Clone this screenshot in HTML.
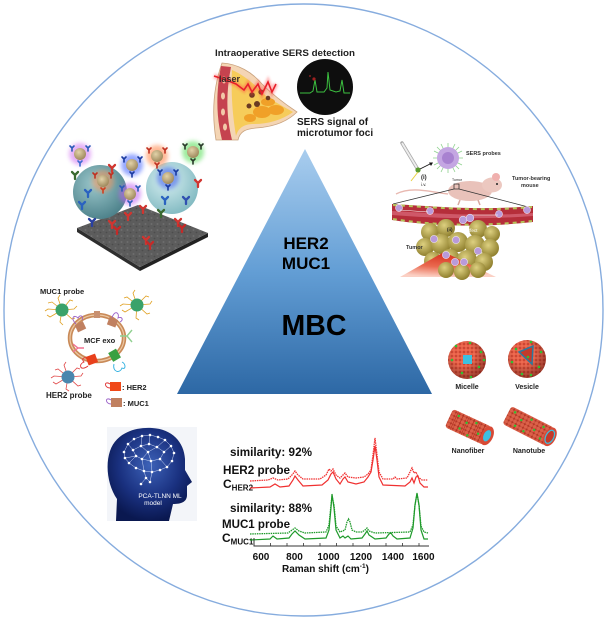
<!DOCTYPE html>
<html>
<head>
<meta charset="utf-8">
<style>
html,body{margin:0;padding:0;background:#fff;}
body{width:605px;height:620px;overflow:hidden;}
svg{display:block;font-family:"Liberation Sans",Arial,sans-serif;}
</style>
</head>
<body>
<svg width="605" height="620" viewBox="0 0 605 620" xmlns="http://www.w3.org/2000/svg">
<defs>
  <linearGradient id="tri" x1="0" y1="0" x2="0" y2="1">
    <stop offset="0" stop-color="#a9cdee"/>
    <stop offset="0.5" stop-color="#639ed5"/>
    <stop offset="1" stop-color="#2d68a5"/>
  </linearGradient>
  <radialGradient id="sphL" cx="0.4" cy="0.35" r="0.7">
    <stop offset="0" stop-color="#9cc8cc"/>
    <stop offset="1" stop-color="#4a7f88"/>
  </radialGradient>
  <radialGradient id="sphR" cx="0.4" cy="0.35" r="0.7">
    <stop offset="0" stop-color="#d8f0f2"/>
    <stop offset="1" stop-color="#7fb8c0"/>
  </radialGradient>
  <radialGradient id="head" cx="0.5" cy="0.4" r="0.6">
    <stop offset="0" stop-color="#3d62b8"/>
    <stop offset="0.6" stop-color="#1a3180"/>
    <stop offset="1" stop-color="#0a1850"/>
  </radialGradient>
  <radialGradient id="tum" cx="0.4" cy="0.35" r="0.7">
    <stop offset="0" stop-color="#ddd080"/>
    <stop offset="1" stop-color="#8a7a28"/>
  </radialGradient>
  <radialGradient id="glow" cx="0.5" cy="0" r="1">
    <stop offset="0" stop-color="#d42a18"/>
    <stop offset="0.6" stop-color="#ea6a50"/>
    <stop offset="1" stop-color="#fbd0c4"/>
  </radialGradient>
  <radialGradient id="shade" cx="0.4" cy="0.35" r="0.65">
    <stop offset="0.45" stop-color="#000" stop-opacity="0"/>
    <stop offset="1" stop-color="#300" stop-opacity="0.4"/>
  </radialGradient>
  <radialGradient id="np" cx="0.4" cy="0.35" r="0.7">
    <stop offset="0" stop-color="#e2d2a8"/>
    <stop offset="1" stop-color="#9a8458"/>
  </radialGradient>
  <pattern id="beads" width="4" height="4" patternUnits="userSpaceOnUse">
    <rect width="4" height="4" fill="#c23a28"/>
    <circle cx="2" cy="2" r="1.9" fill="#ee6a50"/>
  </pattern>
  <pattern id="slabtex" width="6" height="6" patternUnits="userSpaceOnUse">
    <rect width="6" height="6" fill="#5c5c5c"/>
    <circle cx="1.5" cy="2" r="1" fill="#6e6e6e"/>
    <circle cx="4.5" cy="4.5" r="0.9" fill="#4c4c4c"/>
  </pattern>
  <filter id="blur2" x="-50%" y="-50%" width="200%" height="200%"><feGaussianBlur stdDeviation="2.2"/></filter>
  <filter id="blur1" x="-50%" y="-50%" width="200%" height="200%"><feGaussianBlur stdDeviation="1"/></filter>
  <g id="y"><path d="M0,4 L0,0 M0,0 L-3,-3 M0,0 L3,-3" fill="none" stroke-width="2.3" stroke-linecap="round"/></g>
  <g id="ys"><path d="M0,3 L0,0 M0,0 L-2,-2 M0,0 L2,-2" fill="none" stroke-width="1.6" stroke-linecap="round"/></g>
</defs>

<!-- outer circle -->
<ellipse cx="303.5" cy="310" rx="299.5" ry="306" fill="none" stroke="#86acde" stroke-width="1.4"/>

<!-- triangle -->
<polygon points="305,149 177,394 432,394" fill="url(#tri)"/>
<text x="306" y="249" font-size="17" font-weight="bold" text-anchor="middle" fill="#000">HER2</text>
<text x="306" y="269" font-size="17" font-weight="bold" text-anchor="middle" fill="#000">MUC1</text>
<text x="314" y="335" font-size="28.5" font-weight="bold" text-anchor="middle" fill="#000">MBC</text>

<!-- ============ TOP IMAGE ============ -->
<text x="215" y="56" font-size="9" font-weight="bold" fill="#222" textLength="140" lengthAdjust="spacingAndGlyphs">Intraoperative SERS detection</text>
<!-- breast -->
<path d="M222,63 C238,64 252,72 262,84 C274,96 288,106 297,112 C287,122 272,127 256,128 C246,129 240,131 238,140 L216,140 C212,115 213,88 222,63 Z" fill="#f4d5b4" stroke="#c9a27e" stroke-width="0.8"/>
<path d="M221,66 C216,92 216,116 222,140 L232,140 C226,116 226,92 231,67 Z" fill="#c5434f"/>
<ellipse cx="224" cy="80" rx="2" ry="3.5" fill="#f2c8a8"/>
<ellipse cx="223" cy="96" rx="2" ry="3.5" fill="#f2c8a8"/>
<ellipse cx="223" cy="112" rx="2" ry="3.5" fill="#f2c8a8"/>
<ellipse cx="225" cy="127" rx="2" ry="3.5" fill="#f2c8a8"/>
<path d="M232,70 C246,76 256,86 266,96 C278,104 288,109 293,112 C282,120 268,124 254,124 C244,124 238,128 236,136 C232,112 231,90 232,70 Z" fill="#f6cc5a"/>
<ellipse cx="262" cy="112" rx="9" ry="6" fill="#f0a028"/>
<ellipse cx="276" cy="110" rx="8" ry="5" fill="#f0a028"/>
<ellipse cx="268" cy="102" rx="7" ry="4" fill="#f0a028"/>
<ellipse cx="250" cy="118" rx="6" ry="4" fill="#f0a028"/>
<circle cx="252" cy="95" r="2.8" fill="#6a3a22"/>
<circle cx="261" cy="92" r="2.6" fill="#6a3a22"/>
<circle cx="257" cy="104" r="3" fill="#6a3a22"/>
<circle cx="268" cy="98" r="2.3" fill="#6a3a22"/>
<circle cx="249" cy="106" r="2.5" fill="#6a3a22"/>
<path d="M214,76 L226,80 L236,84 L244,90 L248,84 L252,92 L258,84 L262,94 L268,82 L272,92 L276,84" fill="none" stroke="#ff4040" stroke-width="5" stroke-opacity="0.35" filter="url(#blur1)"/>
<path d="M214,76 L226,80 L236,84 L244,90 L248,84 L252,92 L258,84 L262,94 L268,82 L272,92 L276,84" fill="none" stroke="#e8202a" stroke-width="1.6"/>
<text x="219" y="82" font-size="9" font-weight="bold" fill="#3a2a2a">laser</text>
<!-- black circle -->
<circle cx="325" cy="87" r="28" fill="#0e0e0e"/>
<path d="M300,93 L310,93 L313,91 L315,80 L317,92 L324,92 L327,88 L328,72 L330,90 L336,92 L340,91 L342,80 L344,93 L350,93" fill="none" stroke="#3cc040" stroke-width="1"/>
<circle cx="314" cy="79" r="1.6" fill="#a02020"/>
<circle cx="310" cy="76" r="1" fill="#802020"/>
<text x="297" y="125" font-size="10" font-weight="bold" fill="#1a1a1a">SERS signal of</text>
<text x="297" y="136" font-size="10" font-weight="bold" fill="#1a1a1a">microtumor foci</text>

<!-- ============ TOP-LEFT IMAGE ============ -->
<polygon points="77,228 77,232 140,271 140,267" fill="#2e2e2e"/>
<polygon points="140,267 140,271 208,237 208,233" fill="#222"/>
<polygon points="77,228 138,205 208,233 140,267" fill="url(#slabtex)"/>
<circle cx="100" cy="192" r="27" fill="url(#sphL)"/>
<circle cx="172" cy="188" r="26" fill="url(#sphR)"/>
<!-- antibodies -->
<use href="#y" x="112" y="224" stroke="#d03530"/>
<use href="#y" x="117" y="230" stroke="#c42a28"/>
<use href="#y" x="143" y="209" stroke="#d03530"/>
<use href="#y" x="146" y="240" stroke="#d03530"/>
<use href="#y" x="150" y="245" stroke="#c42a28"/>
<use href="#y" x="178" y="222" stroke="#d03530"/>
<use href="#y" x="182" y="228" stroke="#c42a28"/>
<use href="#y" x="128" y="216" stroke="#d03530"/>
<use href="#y" x="198" y="183" stroke="#d03530"/>
<use href="#y" x="88" y="193" stroke="#2a62c0"/>
<use href="#y" x="82" y="205" stroke="#2a62c0"/>
<use href="#y" x="186" y="200" stroke="#3050b0"/>
<use href="#y" x="165" y="200" stroke="#2a62c0"/>
<use href="#y" x="92" y="222" stroke="#2a40a0"/>
<use href="#y" x="112" y="168" stroke="#d03530"/>
<use href="#y" x="75" y="175" stroke="#3a6a30"/>
<use href="#y" x="161" y="213" stroke="#3a6a30"/>
<!-- nanoparticles with halos -->
<g>
  <circle cx="80" cy="154" r="11" fill="#d070f0" opacity="0.55" filter="url(#blur2)"/>
  <circle cx="132" cy="165" r="11" fill="#4060ff" opacity="0.55" filter="url(#blur2)"/>
  <circle cx="157" cy="156" r="11" fill="#ff8040" opacity="0.55" filter="url(#blur2)"/>
  <circle cx="193" cy="152" r="11" fill="#60e060" opacity="0.6" filter="url(#blur2)"/>
  <circle cx="103" cy="181" r="11" fill="#ff9050" opacity="0.5" filter="url(#blur2)"/>
  <circle cx="130" cy="194" r="11" fill="#c060f0" opacity="0.55" filter="url(#blur2)"/>
  <circle cx="168" cy="178" r="11" fill="#3050f0" opacity="0.5" filter="url(#blur2)"/>
</g>
<g stroke="#2a5ab8">
  <circle cx="80" cy="154" r="6" fill="url(#np)" stroke="none"/>
  <use href="#ys" x="72" y="148"/><use href="#ys" x="88" y="148"/><use href="#ys" x="80" y="163" stroke="#3a6ad0"/>
  <circle cx="132" cy="165" r="6" fill="url(#np)" stroke="none"/>
  <use href="#ys" x="124" y="159" stroke="#1a3aa0"/><use href="#ys" x="140" y="159" stroke="#1a3aa0"/><use href="#ys" x="132" y="174" stroke="#1a3aa0"/>
  <circle cx="157" cy="156" r="6" fill="url(#np)" stroke="none"/>
  <use href="#ys" x="149" y="150" stroke="#c03020"/><use href="#ys" x="165" y="150" stroke="#c03020"/><use href="#ys" x="157" y="165" stroke="#c03020"/>
  <circle cx="193" cy="152" r="6" fill="url(#np)" stroke="none"/>
  <use href="#ys" x="185" y="146" stroke="#2a3a2a"/><use href="#ys" x="201" y="146" stroke="#2a3a2a"/><use href="#ys" x="193" y="161" stroke="#2a3a2a"/>
  <circle cx="103" cy="181" r="6" fill="url(#np)" stroke="none"/>
  <use href="#ys" x="95" y="175" stroke="#c03020"/><use href="#ys" x="111" y="175" stroke="#c03020"/><use href="#ys" x="103" y="190" stroke="#d04020"/>
  <circle cx="130" cy="194" r="6" fill="url(#np)" stroke="none"/>
  <use href="#ys" x="122" y="188"/><use href="#ys" x="138" y="188"/><use href="#ys" x="130" y="203"/>
  <circle cx="168" cy="178" r="6" fill="url(#np)" stroke="none"/>
  <use href="#ys" x="160" y="172" stroke="#1a3aa0"/><use href="#ys" x="176" y="172" stroke="#1a3aa0"/><use href="#ys" x="168" y="187" stroke="#1a3aa0"/>
</g>

<!-- ============ LEFT-MID IMAGE (MCF exo) ============ -->
<text x="40" y="294" font-size="7.5" font-weight="bold" fill="#222">MUC1 probe</text>
<g fill="none" stroke="#e0a020" stroke-width="0.8">
  <path d="M62,310 L52,302 L48,303 M62,310 L58,298 L60,295 M62,310 L70,300 L73,301 M62,310 L74,309 L77,306 M62,310 L72,319 L75,318 M62,310 L60,322 L63,325 M62,310 L50,317 L47,315 M62,310 L48,309 L45,311"/>
  <path d="M137,305 L127,297 L124,298 M137,305 L133,293 L135,290 M137,305 L146,296 L149,297 M137,305 L150,304 L152,301 M137,305 L147,314 L150,313 M137,305 L136,318 L139,320 M137,305 L125,312 L122,310 M137,305 L123,304 L120,306"/>
</g>
<circle cx="62" cy="310" r="6.5" fill="#3aa26a"/>
<circle cx="137" cy="305" r="6.5" fill="#3aa26a"/>
<g fill="none" stroke="#e04848" stroke-width="0.8">
  <path d="M68,377 L58,369 L55,370 M68,377 L64,365 L66,362 M68,377 L77,368 L80,369 M68,377 L81,376 L83,373 M68,377 L78,386 L81,385 M68,377 L66,389 L69,391 M68,377 L56,384 L53,382 M68,377 L54,376 L51,378"/>
</g>
<circle cx="68" cy="377" r="6.5" fill="#4a86ae"/>
<ellipse cx="97" cy="338" rx="27" ry="23" fill="none" stroke="#c98a58" stroke-width="4.5"/>
<ellipse cx="97" cy="338" rx="27" ry="23" fill="none" stroke="#ecc8a4" stroke-width="1.2"/>
<g fill="none" stroke-width="0.9">
  <path d="M76,324 C70,318 74,314 78,318 C80,314 84,316 82,320" stroke="#9a60c8"/>
  <path d="M112,318 C114,310 120,312 118,318 C122,316 124,320 120,322" stroke="#9a60c8"/>
  <path d="M88,366 C80,372 78,364 84,362 C80,358 86,356 88,360" stroke="#e03030"/>
  <path d="M114,364 C112,372 120,374 122,368 C126,370 126,364 122,362" stroke="#30b0e0"/>
  <path d="M73,352 L78,348 M73,344 L78,348 L84,348" stroke="#f07090" stroke-width="1.4"/>
  <path d="M132,330 L127,336 M132,342 L127,336 L120,336" stroke="#90d090" stroke-width="1.4"/>
</g>
<rect x="76" y="323" width="9" height="8" fill="#c08060" transform="rotate(-25 80 327)"/>
<rect x="108" y="318" width="9" height="8" fill="#c08060" transform="rotate(20 112 322)"/>
<rect x="94" y="311" width="6" height="7" fill="#c89070"/>
<rect x="87" y="355" width="10" height="9" fill="#e8401c" transform="rotate(-20 92 360)"/>
<rect x="110" y="350" width="9" height="10" fill="#3aa040" transform="rotate(-30 115 355)"/>
<text x="84" y="343" font-size="7.5" font-weight="bold" fill="#222">MCF exo</text>
<text x="46" y="398" font-size="8" font-weight="bold" fill="#222">HER2 probe</text>
<rect x="110" y="382" width="11" height="9" fill="#f04818"/>
<path d="M110,384 C104,380 104,388 110,388" fill="none" stroke="#e03030" stroke-width="0.9"/>
<text x="122" y="390" font-size="7.5" font-weight="bold" fill="#222">: HER2</text>
<rect x="111" y="398" width="11" height="9" fill="#c08060"/>
<path d="M111,400 C105,396 105,404 111,404" fill="none" stroke="#9a60c8" stroke-width="0.9"/>
<text x="123" y="406" font-size="7.5" font-weight="bold" fill="#222">: MUC1</text>

<!-- ============ RIGHT-TOP IMAGE ============ -->
<path d="M402,143 L417,168" stroke="#aaa" stroke-width="3.5" stroke-linecap="round"/>
<path d="M402,143 L417,168" stroke="#eee" stroke-width="1.8"/>
<circle cx="418" cy="170" r="2.6" fill="#5a9a30"/>
<path d="M418,172 L411,181" stroke="#e8d040" stroke-width="1"/>
<path d="M420,169 L432,163" stroke="#111" stroke-width="0.8"/>
<path d="M433,162.5 L429,162.5 L431,166 Z" fill="#111"/>
<text x="421" y="179" font-size="6" font-weight="bold" fill="#222">(i)</text>
<text x="421" y="186" font-size="4.5" fill="#222">i.v.</text>
<g stroke="#8ed08e" stroke-width="0.8">
  <path d="M448,143 L448,173 M433,158 L463,158 M437,147 L459,169 M459,147 L437,169 M441,144 L455,172 M455,144 L441,172 M434,151 L462,165 M462,151 L434,165"/>
</g>
<circle cx="448" cy="158" r="11" fill="#c4a6e2"/>
<circle cx="448" cy="158" r="6" fill="#a882d0"/>
<text x="466" y="155" font-size="5.5" font-weight="bold" fill="#333">SERS probes</text>
<path d="M448,194 C430,192 412,186 396,194" fill="none" stroke="#e8b8b0" stroke-width="1.4"/>
<ellipse cx="470" cy="191" rx="22" ry="10" fill="#e9c2ba"/>
<ellipse cx="492" cy="185" rx="10" ry="7.5" fill="#ecc8c0"/>
<circle cx="496" cy="177" r="4" fill="#f0b0ae"/>
<circle cx="497" cy="184" r="1" fill="#222"/>
<path d="M460,200 L458,205 M478,200 L480,205" stroke="#d8a8a0" stroke-width="1.5"/>
<text x="512" y="180" font-size="5.5" font-weight="bold" fill="#333">Tumor-bearing</text>
<text x="521" y="187" font-size="5.5" font-weight="bold" fill="#333">mouse</text>
<text x="452" y="181" font-size="3.5" fill="#222">Tumor</text>
<rect x="454" y="184" width="5" height="5" fill="none" stroke="#222" stroke-width="0.7"/>
<path d="M454,189 L393,204 M459,189 L532,208" stroke="#333" stroke-width="0.7"/>
<path d="M392,204 C430,206 480,211 533,206 L533,222 C480,228 430,226 392,220 Z" fill="#b52e3a"/>
<path d="M392,211 C430,213 480,217 533,213 L533,216 C480,220 430,218 392,215 Z" fill="#cf5868"/>
<g stroke="#b6c45a" stroke-width="2" stroke-dasharray="4 4">
  <path d="M393,205 C430,207 480,212 532,207" fill="none"/>
  <path d="M393,219 C430,225 480,227 532,221" fill="none"/>
</g>
<g fill="#b99ada" stroke="#fff" stroke-width="0.5">
  <circle cx="399" cy="208" r="3.5"/><circle cx="430" cy="211" r="3.5"/>
  <circle cx="499" cy="214" r="3.5"/><circle cx="527" cy="210" r="3.5"/>
</g>
<path d="M400,210 L428,212 M470,215 L498,215" stroke="#fff" stroke-width="0.6"/>
<!-- tumor -->
<g fill="url(#tum)">
  <circle cx="430" cy="232" r="9"/><circle cx="446" cy="228" r="9"/><circle cx="478" cy="229" r="9"/><circle cx="492" cy="234" r="8"/>
  <circle cx="425" cy="247" r="9"/><circle cx="441" cy="244" r="10"/><circle cx="458" cy="242" r="10"/><circle cx="475" cy="245" r="10"/><circle cx="490" cy="248" r="9"/>
  <circle cx="433" cy="261" r="9"/><circle cx="450" cy="259" r="10"/><circle cx="467" cy="260" r="10"/><circle cx="484" cy="262" r="9"/>
</g>
<polygon points="400,277 444,252 496,277" fill="url(#glow)"/>
<g fill="url(#tum)">
  <circle cx="446" cy="270" r="8"/><circle cx="462" cy="272" r="8"/><circle cx="478" cy="270" r="8"/>
</g>
<g fill="#b99ada" stroke="#e8e0f0" stroke-width="0.6">
  <circle cx="463" cy="220" r="3.8"/><circle cx="470" cy="218" r="3.8"/>
  <circle cx="434" cy="239" r="3.6"/><circle cx="456" cy="240" r="3.6"/><circle cx="478" cy="251" r="3.6"/>
  <circle cx="446" cy="255" r="3.6"/><circle cx="455" cy="262" r="3.6"/><circle cx="464" cy="262" r="3.6"/>
</g>
<text x="447" y="231" font-size="4.5" font-weight="bold" fill="#222">(ii)</text>
<text x="456" y="232" font-size="4.5" fill="#fff">EPR effect</text>
<text x="406" y="249" font-size="5.5" font-weight="bold" fill="#333">Tumor</text>

<!-- ============ RIGHT NANO ============ -->
<circle cx="467" cy="360" r="19" fill="url(#beads)"/>
<circle cx="467" cy="360" r="19" fill="url(#shade)"/>
<rect x="463" y="355" width="9" height="9" fill="#3cc0e0"/>
<circle cx="527" cy="359" r="19" fill="url(#beads)"/>
<circle cx="527" cy="359" r="19" fill="url(#shade)"/>
<path d="M519,352 L533,346 L532,364 Z" fill="#c43a2a" stroke="#2a7aa0" stroke-width="1.5"/>
<g fill="#30c030">
  <circle cx="456" cy="346" r="1.3"/><circle cx="470" cy="343" r="1.3"/><circle cx="481" cy="352" r="1.3"/><circle cx="452" cy="360" r="1.3"/>
  <circle cx="479" cy="367" r="1.3"/><circle cx="462" cy="373" r="1.3"/><circle cx="471" cy="377" r="1.3"/><circle cx="484" cy="360" r="1.3"/>
  <circle cx="516" cy="349" r="1.3"/><circle cx="531" cy="342" r="1.3"/><circle cx="541" cy="352" r="1.3"/><circle cx="512" cy="362" r="1.3"/>
  <circle cx="539" cy="367" r="1.3"/><circle cx="522" cy="374" r="1.3"/><circle cx="531" cy="375" r="1.3"/><circle cx="528" cy="357" r="1.3"/>
</g>
<text x="467" y="389" font-size="7" font-weight="bold" fill="#222" text-anchor="middle">Micelle</text>
<text x="527" y="389" font-size="7" font-weight="bold" fill="#222" text-anchor="middle">Vesicle</text>
<!-- nanofiber -->
<g transform="translate(449,418) rotate(25)">
  <rect x="0" y="-10" width="42" height="20" rx="3" fill="url(#beads)"/>
  <rect x="0" y="-10" width="42" height="20" rx="3" fill="#000" opacity="0.08"/>
  <path d="M6,-10 V10 M12,-10 V10 M18,-10 V10 M24,-10 V10 M30,-10 V10 M36,-10 V10" stroke="#b0301e" stroke-width="0.6"/>
  <ellipse cx="42" cy="0" rx="6" ry="10" fill="#d84a36"/>
  <ellipse cx="42" cy="0" rx="3.5" ry="6" fill="#3cc0e0"/>
  <g fill="#30c030"><circle cx="8" cy="-6" r="1.2"/><circle cx="18" cy="-3" r="1.2"/><circle cx="27" cy="-7" r="1.2"/><circle cx="14" cy="5" r="1.2"/><circle cx="33" cy="2" r="1.2"/><circle cx="24" cy="8" r="1.2"/></g>
</g>
<!-- nanotube -->
<g transform="translate(507,415) rotate(27)">
  <rect x="0" y="-10" width="48" height="20" rx="3" fill="url(#beads)"/>
  <rect x="0" y="-10" width="48" height="20" rx="3" fill="#000" opacity="0.08"/>
  <ellipse cx="48" cy="0" rx="6" ry="10" fill="#d84a36"/>
  <ellipse cx="48" cy="0" rx="4" ry="7" fill="#c43a2a" stroke="#3cc0e0" stroke-width="1.2"/>
  <g fill="#30c030"><circle cx="6" cy="-6" r="1.2"/><circle cx="15" cy="-2" r="1.2"/><circle cx="24" cy="-7" r="1.2"/><circle cx="12" cy="6" r="1.2"/><circle cx="31" cy="1" r="1.2"/><circle cx="22" cy="7" r="1.2"/><circle cx="38" cy="-6" r="1.2"/><circle cx="40" cy="6" r="1.2"/></g>
</g>
<text x="468" y="453" font-size="7" font-weight="bold" fill="#222" text-anchor="middle">Nanofiber</text>
<text x="529" y="453" font-size="7" font-weight="bold" fill="#222" text-anchor="middle">Nanotube</text>

<!-- ============ BRAIN ============ -->
<rect x="107" y="427" width="90" height="94" fill="#f3f5f9"/>
<path d="M116,521 L117,499 C108,486 105,466 110,451 C116,433 135,427 152,428 C172,429 184,442 185,459 L185,470 L192,482 L187,486 L187,495 C187,502 181,504 173,504 L169,521 Z" fill="url(#head)"/>
<g stroke="#dfe8ff" stroke-width="0.5" fill="none" opacity="0.9">
  <path d="M124,452 L128,444 L134,439 L142,436 L150,435 L158,437 L165,440 L171,446 L174,453 L172,461 L167,467 L160,470 L152,472 L144,471 L136,468 L129,463 L125,458 L124,452"/>
  <path d="M128,444 L133,450 L141,446 L149,444 L157,447 L164,452 L160,459 L151,461 L142,459 L136,456 L133,450 M141,446 L142,436 M149,444 L150,435 M157,447 L165,440 M164,452 L171,446 M160,459 L167,467 M151,461 L152,472 M142,459 L144,471 M136,456 L129,463 M148,452 L141,446 M148,452 L157,447 M148,452 L151,461 M148,452 L142,459 M136,456 L125,458 M152,472 L150,482 M144,471 L146,478 L141,484 M146,478 L150,482"/>
</g>
<g fill="#fff">
  <circle cx="124" cy="452" r="1.3"/><circle cx="128" cy="444" r="1.3"/><circle cx="134" cy="439" r="1.3"/><circle cx="142" cy="436" r="1.3"/><circle cx="150" cy="435" r="1.3"/><circle cx="158" cy="437" r="1.3"/><circle cx="165" cy="440" r="1.3"/><circle cx="171" cy="446" r="1.3"/><circle cx="174" cy="453" r="1.3"/><circle cx="172" cy="461" r="1.3"/><circle cx="167" cy="467" r="1.3"/><circle cx="160" cy="470" r="1.3"/><circle cx="152" cy="472" r="1.3"/><circle cx="144" cy="471" r="1.3"/><circle cx="136" cy="468" r="1.3"/><circle cx="129" cy="463" r="1.3"/><circle cx="125" cy="458" r="1.3"/><circle cx="133" cy="450" r="1.3"/><circle cx="141" cy="446" r="1.3"/><circle cx="149" cy="444" r="1.3"/><circle cx="157" cy="447" r="1.3"/><circle cx="164" cy="452" r="1.3"/><circle cx="160" cy="459" r="1.3"/><circle cx="151" cy="461" r="1.3"/><circle cx="142" cy="459" r="1.3"/><circle cx="136" cy="456" r="1.3"/><circle cx="148" cy="452" r="1.3"/><circle cx="146" cy="478" r="1.3"/><circle cx="141" cy="484" r="1.3"/><circle cx="150" cy="482" r="1.3"/>
</g>
<text x="160" y="498" font-size="6.5" fill="#fff" text-anchor="middle">PCA-TLNN ML</text>
<text x="153" y="505" font-size="6.5" fill="#fff" text-anchor="middle">model</text>

<!-- ============ CHART ============ -->
<text x="230" y="456" font-size="12" font-weight="bold" fill="#111" textLength="82" lengthAdjust="spacingAndGlyphs">similarity: 92%</text>
<text x="223" y="474" font-size="12" font-weight="bold" fill="#111" textLength="67" lengthAdjust="spacingAndGlyphs">HER2 probe</text>
<text x="223" y="488" font-size="12" font-weight="bold" fill="#111">C<tspan font-size="8" dy="2.5">HER2</tspan></text>
<text x="230" y="512" font-size="12" font-weight="bold" fill="#111" textLength="82" lengthAdjust="spacingAndGlyphs">similarity: 88%</text>
<text x="222" y="528" font-size="12" font-weight="bold" fill="#111" textLength="68" lengthAdjust="spacingAndGlyphs">MUC1 probe</text>
<text x="222" y="542" font-size="12" font-weight="bold" fill="#111">C<tspan font-size="8" dy="2.5">MUC1</tspan></text>

<path d="M250,481 L268,480 L273,478 L278,480 L288,479 L292,475 L295,471 L298,475 L303,479 L320,479 L326,475 L329,469 L331,471 L333,469 L336,475 L340,478 L343,475 L345,473 L348,477 L356,478 L364,477 L368,474 L371,470 L373,455 L375,438 L377,455 L379,472 L383,479 L393,479 L395,477 L397,479 L407,478 L410,472 L412,468 L414,473 L416,472 L418,477 L422,480 L428,480" fill="none" stroke="#f03030" stroke-width="1.3" stroke-dasharray="1.5 0.8"/>
<path d="M250,488 L270,487 L275,484 L280,487 L289,486 L293,480 L295,476 L298,480 L303,486 L322,485 L328,480 L331,474 L333,472 L336,479 L340,484 L343,479 L345,477 L348,482 L356,484 L364,482 L368,477 L371,472 L373,460 L375,446 L377,460 L379,477 L383,485 L405,486 L410,482 L412,478 L414,483 L416,477 L418,476 L420,483 L424,487 L428,487" fill="none" stroke="#f03030" stroke-width="1.2"/>
<path d="M250,534 L288,533 L292,530 L295,528 L299,531 L305,533 L326,532 L329,525 L331,505 L332,496 L334,505 L336,526 L340,532 L345,530 L347,522 L348.5,519 L350,522 L352,530 L356,532 L362,532 L365,530 L367,528 L369,531 L375,533 L410,532 L413,525 L415,505 L417,494 L419,505 L421,526 L424,532 L428,533" fill="none" stroke="#1e9a2a" stroke-width="1.3" stroke-dasharray="1.5 0.8"/>
<path d="M250,540 L270,539 L273,536 L277,539 L289,538 L292,534 L295,531 L299,535 L305,539 L326,538 L329,530 L331,508 L332,494 L334,508 L336,530 L340,538 L343,536 L345,538 L348,536 L351,539 L362,538 L365,534 L367,531 L369,535 L375,539 L386,538 L389,534 L391,533 L393,536 L397,539 L410,538 L413,528 L415,505 L417,493 L419,505 L421,530 L424,539 L428,539" fill="none" stroke="#1e9a2a" stroke-width="1.2"/>
<path d="M254,538 L254,546 L429,546" fill="none" stroke="#333" stroke-width="1"/>
<path d="M270.5,546 V543 M287,546 V543 M303.5,546 V543 M320,546 V543 M336.5,546 V543 M353,546 V543 M369.5,546 V543 M386,546 V543 M402.5,546 V543 M419,546 V543" stroke="#333" stroke-width="0.8"/>
<g font-size="10" font-weight="bold" fill="#111" text-anchor="middle">
  <text x="261" y="560">600</text>
  <text x="294.5" y="560">800</text>
  <text x="328.5" y="560">1000</text>
  <text x="361" y="560">1200</text>
  <text x="393" y="560">1400</text>
  <text x="423.5" y="560">1600</text>
</g>
<text x="282" y="572" font-size="10" font-weight="bold" fill="#111">Raman shift (cm<tspan font-size="6.5" dy="-4">-1</tspan><tspan dy="4">)</tspan></text>
</svg>
</body>
</html>
